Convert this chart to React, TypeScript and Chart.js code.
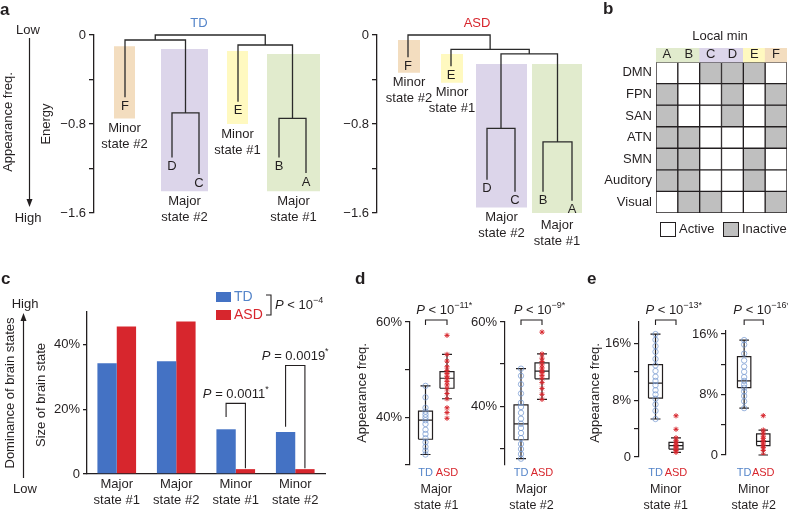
import React, { useEffect, useRef } from 'react';
import { Chart, registerables } from 'chart.js';

Chart.register(...registerables);

const W = 788;
const H = 514;
const FONT = '"Liberation Sans", Arial, Helvetica, sans-serif';
const INK = '#231F20';
const BLUE = '#4472C4';
const RED = '#D7262D';
const TD_TXT = '#5585C9';
const TD_PT = 'rgba(120,155,210,0.75)';
const GRAY = '#BFBFBF';
const C_GREEN = '#E1EBCD';
const C_PURPLE = '#DCD5EA';
const C_YELLOW = '#FFF9C0';
const C_TAN = '#F3DDBF';

Chart.defaults.font.family = FONT;
Chart.defaults.font.size = 13;
Chart.defaults.color = INK;

// ================= DATA =================
// Panel a: energy landscape dendrograms
const stateNames = ['A', 'B', 'C', 'D', 'E', 'F'];
const energyTicks = [0, -0.4, -0.8, -1.2, -1.6];
const energyTickLabels = ['0', '', '−0.8', '', '−1.6'];
const tdLeafEnergy = [-1.24, -1.1, -1.25, -1.1, -0.6, -0.56];
const tdMergeLeft = ['D', 'B', 'F', 'E', 'FDC'];
const tdMergeRight = ['C', 'A', 'DC', 'BA', 'EBA'];
const tdMergeEnergy = [-0.7, -0.75, -0.045, -0.09, 0];
const asdLeafEnergy = [-1.49, -1.41, -1.41, -1.3, -0.28, -0.2];
const asdMergeLeft = ['D', 'B', 'DC', 'E', 'F'];
const asdMergeRight = ['C', 'A', 'BA', 'DCBA', 'EDCBA'];
const asdMergeEnergy = [-0.84, -0.96, -0.17, -0.13, 0];
const groupLines = [['Major', 'state #1'], ['Major', 'state #2'], ['Minor', 'state #1'], ['Minor', 'state #2']];
const groupColors = [C_GREEN, C_PURPLE, C_YELLOW, C_TAN];
const tdGroupTop = [-0.17, -0.126, -0.144, -0.1];
const tdGroupBottom = [-1.405, -1.405, -0.8, -0.75];
const asdGroupTop = [-0.26, -0.26, -0.17, -0.045];
const asdGroupBottom = [-1.62, -1.55, -0.43, -0.34];

// Panel b: activity pattern of local minima (1 = inactive)
const bNetworks = ['DMN', 'FPN', 'SAN', 'ATN', 'SMN', 'Auditory', 'Visual'];
const bInactive = [
  [0, 0, 1, 1, 1, 0],
  [1, 0, 0, 1, 0, 1],
  [1, 0, 0, 1, 0, 1],
  [1, 1, 0, 0, 0, 1],
  [1, 1, 0, 0, 1, 0],
  [1, 1, 0, 0, 1, 0],
  [0, 1, 1, 0, 0, 1],
];
const bHeaderColors = [C_GREEN, C_GREEN, C_PURPLE, C_PURPLE, C_YELLOW, C_TAN];

// Panel c: size of brain states (%)
const cCategories = [['Major', 'state #1'], ['Major', 'state #2'], ['Minor', 'state #1'], ['Minor', 'state #2']];
const cTD = [34.2, 34.8, 13.8, 13.0];
const cASD = [45.5, 47.1, 1.5, 1.5];
const cTicks = [0, 20, 40];
const cPValues = ['', '', '0.0011', '0.0019'];
const cBracketTop = [0, 0, 21.8, 33.5];
const cBracketStart = [0, 0, 17.6, 14.6];

// Panels d, e: appearance frequency (%), box = [low whisker, Q1, median, Q3, high whisker]
const dTicks = [30, 40, 50, 60];
const dTickLabels = ['', '40%', '', '60%'];
const eTicks = [0, 4, 8, 12, 16];
const eTickLabels = ['0', '', '8%', '', '16%'];

const major1TDPoints = [46.6, 44.2, 42.0, 41.2, 40.6, 40.0, 39.4, 38.6, 37.4, 36.5, 35.6, 34.8, 33.8, 33.0, 32.2];
const major1ASDPoints = [57.2, 53.2, 51.8, 50.6, 49.8, 49.2, 48.6, 48.1, 47.5, 46.8, 46.0, 45.0, 43.9, 42.0, 41.0, 39.8];
const major1TDBox = [32.2, 35.4, 39.4, 41.3, 46.6];
const major1ASDBox = [43.9, 46.1, 48.2, 49.6, 53.2];

const major2TDPoints = [48.9, 47.2, 45.2, 43.0, 40.8, 39.8, 38.4, 37.0, 35.8, 34.8, 33.6, 32.4, 31.0, 29.8, 28.6, 27.5];
const major2ASDPoints = [57.6, 52.4, 51.4, 50.6, 49.8, 49.1, 48.5, 48.0, 47.3, 46.6, 45.6, 44.2, 42.8, 41.6];
const major2TDBox = [27.5, 32.0, 35.8, 40.3, 48.9];
const major2ASDBox = [41.6, 46.5, 48.3, 50.3, 52.4];

const minor1TDPoints = [17.3, 16.5, 15.6, 14.8, 13.8, 12.9, 12.1, 11.3, 10.7, 10.1, 9.4, 8.8, 8.2, 7.4, 6.5, 5.35];
const minor1ASDPoints = [5.8, 3.9, 2.7, 2.3, 2.0, 1.7, 1.5, 1.3, 1.1, 0.9, 0.65];
const minor1TDBox = [5.35, 8.3, 10.4, 13.0, 17.3];
const minor1ASDBox = [0.65, 1.1, 1.6, 2.07, 2.7];

const minor2TDPoints = [15.2, 14.6, 13.4, 12.5, 11.7, 11.0, 10.3, 9.8, 9.3, 8.9, 8.4, 7.8, 7.1, 6.2];
const minor2ASDPoints = [5.2, 3.3, 2.9, 2.5, 2.2, 1.9, 1.6, 1.3, 1.0, 0.6, 0.0];
const minor2TDBox = [6.2, 8.9, 9.8, 13.0, 15.2];
const minor2ASDBox = [0.0, 1.24, 1.8, 2.8, 3.3];

// ================= LAYOUT =================
const A_LAYOUT: any = {
  TD: {
    axisX: 94, xMax: 236, titleX: 105, color: TD_TXT,
    leafX: { F: 31, D: 78, C: 105, E: 144, B: 185, A: 212 },
    boxX: [[173, 226], [67, 114], [133, 154], [20, 41]],
  },
  ASD: {
    axisX: 377, xMax: 215, titleX: 100, color: RED,
    leafX: { F: 31, E: 74, D: 110, C: 138, B: 166, A: 195 },
    boxX: [[155, 205], [99, 150], [64, 86], [21, 43]],
  },
};

const BOX_SPECS: any[] = [
  { axisX: 410, tdX: 425.5, asdX: 447, top: 322, bottom: 465, min: 30, max: 60, ticks: dTicks, labels: dTickLabels,
    td: major1TDPoints, asd: major1ASDPoints, tdBox: major1TDBox, asdBox: major1ASDBox, name: groupLines[0], exp: '−11*', bracketY: 320, yTitleX: 362, letter: 'd', letterX: 355 },
  { axisX: 505, tdX: 521, asdX: 542, top: 322, bottom: 465, min: 26, max: 60, ticks: dTicks, labels: dTickLabels,
    td: major2TDPoints, asd: major2ASDPoints, tdBox: major2TDBox, asdBox: major2ASDBox, name: groupLines[1], exp: '−9*', bracketY: 320 },
  { axisX: 639, tdX: 655.5, asdX: 676, top: 322, bottom: 457, min: 0, max: 19, ticks: eTicks, labels: eTickLabels,
    td: minor1TDPoints, asd: minor1ASDPoints, tdBox: minor1TDBox, asdBox: minor1ASDBox, name: groupLines[2], exp: '−13*', bracketY: 320, yTitleX: 595, letter: 'e', letterX: 587 },
  { axisX: 726, tdX: 745, asdX: 765, top: 331, bottom: 455, min: 0, max: 16.4, ticks: eTicks, labels: eTickLabels,
    td: minor2TDPoints, asd: minor2ASDPoints, tdBox: minor2TDBox, asdBox: minor2ASDBox, name: groupLines[3], exp: '−16*', bracketY: 320 },
];

// ================= DRAW HELPERS =================
function txt(ctx: any, s: string, x: number, y: number, o: any = {}) {
  ctx.save();
  ctx.font = `${o.italic ? 'italic ' : ''}${o.bold ? 'bold ' : ''}${o.size ?? 13}px ${FONT}`;
  ctx.fillStyle = o.color ?? INK;
  ctx.textAlign = o.align ?? 'center';
  ctx.textBaseline = 'middle';
  ctx.translate(x, y);
  if (o.rot) ctx.rotate(o.rot);
  ctx.fillText(s, 0, 0);
  ctx.restore();
}

function rich(ctx: any, parts: any[], x: number, y: number, align = 'center', size = 13, color = INK) {
  ctx.save();
  ctx.fillStyle = color;
  ctx.textBaseline = 'middle';
  ctx.textAlign = 'left';
  const fontOf = (p: any) => `${p.it ? 'italic ' : ''}${p.sup ? Math.round(size * 0.72) : size}px ${FONT}`;
  let total = 0;
  const widths = parts.map((p) => { ctx.font = fontOf(p); const w = ctx.measureText(p.t).width; total += w; return w; });
  let cx = align === 'center' ? x - total / 2 : x;
  parts.forEach((p, i) => {
    ctx.font = fontOf(p);
    ctx.fillText(p.t, cx, p.sup ? y - size * 0.38 : y);
    cx += widths[i];
  });
  ctx.restore();
}

function path(ctx: any, pts: number[][], color = INK, lw = 1.2) {
  ctx.save();
  ctx.strokeStyle = color;
  ctx.lineWidth = lw;
  ctx.beginPath();
  pts.forEach(([px, py], i) => (i ? ctx.lineTo(px, py) : ctx.moveTo(px, py)));
  ctx.stroke();
  ctx.restore();
}

function arrowV(ctx: any, x: number, yFrom: number, yTo: number) {
  const dir = Math.sign(yTo - yFrom);
  path(ctx, [[x, yFrom], [x, yTo - dir * 5]], INK, 1.2);
  ctx.save();
  ctx.fillStyle = INK;
  ctx.beginPath();
  ctx.moveTo(x, yTo);
  ctx.lineTo(x - 3, yTo - dir * 8);
  ctx.lineTo(x + 3, yTo - dir * 8);
  ctx.closePath();
  ctx.fill();
  ctx.restore();
}

function base(padding: any) {
  return {
    responsive: false,
    animation: false,
    devicePixelRatio: 1,
    events: [],
    layout: { padding },
    plugins: { legend: { display: false }, tooltip: { enabled: false }, title: { display: false } },
  };
}

// ================= PANEL a =================
function makeA(kind: 'TD' | 'ASD') {
  const L = A_LAYOUT[kind];
  const leafE = kind === 'TD' ? tdLeafEnergy : asdLeafEnergy;
  const mL = kind === 'TD' ? tdMergeLeft : asdMergeLeft;
  const mR = kind === 'TD' ? tdMergeRight : asdMergeRight;
  const mE = kind === 'TD' ? tdMergeEnergy : asdMergeEnergy;
  const gTop = kind === 'TD' ? tdGroupTop : asdGroupTop;
  const gBot = kind === 'TD' ? tdGroupBottom : asdGroupBottom;
  const pos: any = {};
  stateNames.forEach((s, i) => { pos[s] = { x: L.leafX[s], e: leafE[i] }; });
  const tree: any[] = [];
  mL.forEach((l, i) => {
    const r = mR[i];
    const a = pos[l];
    const b = pos[r];
    const e = mE[i];
    tree.push({ x: a.x, y: a.e }, { x: a.x, y: e }, { x: b.x, y: e }, { x: b.x, y: b.e }, { x: b.x, y: null });
    pos[l + r] = { x: (a.x + b.x) / 2, e };
  });
  const rects = groupColors.map((c, i) => {
    const [x0, x1] = L.boxX[i];
    return {
      data: [{ x: x0, y: gTop[i] }, { x: x1, y: gTop[i] }, { x: x1, y: gBot[i] }, { x: x0, y: gBot[i] }, { x: x0, y: gTop[i] }],
      showLine: true, fill: 'shape', backgroundColor: c, borderColor: 'rgba(0,0,0,0)', borderWidth: 0,
      pointRadius: 0, order: 5, clip: false,
    };
  });
  return {
    type: 'scatter',
    data: {
      datasets: [
        { data: tree, showLine: true, borderColor: '#2A2A2A', borderWidth: 1.3, pointRadius: 0, order: 1, clip: false, spanGaps: false },
        ...rects,
      ],
    },
    options: {
      ...base({ left: L.axisX - 40, right: W - (L.axisX + L.xMax), top: 35, bottom: H - 213 }),
      scales: {
        x: { type: 'linear', display: false, min: 0, max: L.xMax },
        y: {
          type: 'linear', min: -1.6, max: 0,
          afterFit: (s: any) => { s.width = 40; },
          afterBuildTicks: (s: any) => { s.ticks = energyTicks.map((v) => ({ value: v })); },
          ticks: { callback: (_v: any, i: number) => energyTickLabels[i], padding: 3, color: INK, font: { size: 13 } },
          grid: { drawOnChartArea: false, drawTicks: true, tickLength: 5, color: INK, lineWidth: 1.3 },
          border: { display: true, color: INK, width: 1.3 },
        },
      },
    },
    plugins: [{
      id: 'deco' + kind,
      afterDraw(chart: any) {
        const { ctx } = chart;
        const x = chart.scales.x;
        const y = chart.scales.y;
        stateNames.forEach((s, i) => {
          txt(ctx, s, x.getPixelForValue(L.leafX[s]), y.getPixelForValue(leafE[i]) + 9);
        });
        groupLines.forEach((lines, i) => {
          const cx = x.getPixelForValue((L.boxX[i][0] + L.boxX[i][1]) / 2);
          const by = y.getPixelForValue(gBot[i]);
          txt(ctx, lines[0], cx, by + 10);
          txt(ctx, lines[1], cx, by + 26);
        });
        txt(ctx, kind, x.getPixelForValue(L.titleX), 23, { color: L.color });
        if (kind === 'TD') {
          txt(ctx, 'a', 0, 10, { bold: true, size: 17, align: 'left' });
          txt(ctx, 'Low', 28, 30);
          arrowV(ctx, 29.5, 38, 207);
          txt(ctx, 'High', 28, 218);
          txt(ctx, 'Appearance freq.', 8, 122, { rot: -Math.PI / 2 });
          txt(ctx, 'Energy', 46, 124, { rot: -Math.PI / 2 });
        }
      },
    }],
  };
}

// ================= PANEL b =================
function makeB() {
  const header = {
    data: stateNames.map(() => [-0.65, 0]),
    backgroundColor: bHeaderColors, borderWidth: 0, borderColor: 'rgba(0,0,0,0)',
  };
  const rows = bInactive.map((row, r) => ({
    data: row.map(() => [r, r + 1]),
    backgroundColor: row.map((v) => (v ? GRAY : '#FFFFFF')),
    borderColor: INK, borderWidth: 1, borderSkipped: false,
  }));
  return {
    type: 'bar',
    data: { labels: stateNames, datasets: [header, ...rows] },
    options: {
      ...base({ left: 656 - 60, right: W - 787, top: 48, bottom: H - 213 }),
      datasets: { bar: { grouped: false, barPercentage: 1, categoryPercentage: 1 } },
      scales: {
        x: { display: false },
        y: {
          type: 'linear', reverse: true, min: -0.65, max: 7,
          afterFit: (s: any) => { s.width = 60; },
          afterBuildTicks: (s: any) => { s.ticks = bNetworks.map((_n, i) => ({ value: i + 0.5 })); },
          ticks: { callback: (_v: any, i: number) => bNetworks[i], padding: 4, color: INK, font: { size: 13 } },
          grid: { display: false, drawTicks: false },
          border: { display: false },
        },
      },
    },
    plugins: [{
      id: 'decoB',
      afterDraw(chart: any) {
        const { ctx } = chart;
        const x = chart.scales.x;
        const y = chart.scales.y;
        stateNames.forEach((s, i) => txt(ctx, s, x.getPixelForValue(i), y.getPixelForValue(-0.33)));
        txt(ctx, 'b', 603, 9, { bold: true, size: 17, align: 'left' });
        txt(ctx, 'Local min', 720, 36);
        ctx.save();
        ctx.strokeStyle = INK;
        ctx.lineWidth = 1;
        ctx.fillStyle = '#FFFFFF';
        ctx.fillRect(660.5, 222.5, 15, 14);
        ctx.strokeRect(660.5, 222.5, 15, 14);
        ctx.fillStyle = GRAY;
        ctx.fillRect(723.5, 222.5, 15, 14);
        ctx.strokeRect(723.5, 222.5, 15, 14);
        ctx.restore();
        txt(ctx, 'Active', 679, 229.5, { align: 'left' });
        txt(ctx, 'Inactive', 742, 229.5, { align: 'left' });
      },
    }],
  };
}

// ================= PANEL c =================
function makeC() {
  return {
    type: 'bar',
    data: {
      labels: cCategories,
      datasets: [
        { data: cTD, backgroundColor: BLUE },
        { data: cASD, backgroundColor: RED },
      ],
    },
    options: {
      ...base({ left: 87 - 40, right: W - 325, top: 312, bottom: 0 }),
      datasets: { bar: { categoryPercentage: 0.65, barPercentage: 1 } },
      scales: {
        x: {
          afterFit: (s: any) => { s.height = 40; },
          grid: { display: false, drawTicks: false },
          border: { display: true, color: INK, width: 1.3 },
          ticks: { padding: 3, color: INK, font: { size: 13 }, maxRotation: 0, autoSkip: false },
        },
        y: {
          min: 0, max: 50,
          afterFit: (s: any) => { s.width = 40; },
          afterBuildTicks: (s: any) => { s.ticks = cTicks.map((v) => ({ value: v })); },
          ticks: { callback: (v: any) => (v === 0 ? '0' : v + '%'), padding: 3, color: INK, font: { size: 13 } },
          grid: { drawOnChartArea: false, tickLength: 4, color: INK, lineWidth: 1.3 },
          border: { display: true, color: INK, width: 1.3 },
        },
      },
    },
    plugins: [{
      id: 'decoC',
      afterDraw(chart: any) {
        const { ctx } = chart;
        const y = chart.scales.y;
        txt(ctx, 'c', 1, 279, { bold: true, size: 17, align: 'left' });
        txt(ctx, 'High', 25, 304);
        arrowV(ctx, 23.5, 478, 313);
        txt(ctx, 'Low', 25, 489);
        txt(ctx, 'Dominance of brain states', 10, 393, { rot: -Math.PI / 2 });
        txt(ctx, 'Size of brain state', 41, 395, { rot: -Math.PI / 2 });
        ctx.save();
        ctx.fillStyle = BLUE;
        ctx.fillRect(216, 292, 15, 10);
        ctx.fillStyle = RED;
        ctx.fillRect(216, 310, 15, 10);
        ctx.restore();
        txt(ctx, 'TD', 234, 297.5, { align: 'left', size: 14, color: TD_TXT });
        txt(ctx, 'ASD', 234, 315.5, { align: 'left', size: 14, color: RED });
        path(ctx, [[266, 295], [271, 295], [271, 315], [266, 315]], INK, 1.1);
        rich(ctx, [{ t: 'P', it: true }, { t: ' < 10' }, { t: '−4', sup: true }], 275, 305, 'left');
        const mt = chart.getDatasetMeta(0).data;
        const ma = chart.getDatasetMeta(1).data;
        cPValues.forEach((p, i) => {
          if (!p) return;
          const xl = mt[i].x;
          const xr = ma[i].x;
          const yt = y.getPixelForValue(cBracketTop[i]);
          path(ctx, [[xl, y.getPixelForValue(cBracketStart[i])], [xl, yt], [xr, yt], [xr, y.getPixelForValue(cASD[i] + 0.3)]], INK, 1.1);
          rich(ctx, [{ t: 'P', it: true }, { t: ' = ' + p }, { t: '*', sup: true }], (xl + xr) / 2, yt - 9);
        });
      },
    }],
  };
}

// ================= PANELS d, e =================
function boxLines(g: number, b: number[], bw: number, cw: number) {
  const [lo, q1, md, q3, hi] = b;
  return [
    { x: g - bw, y: q1 }, { x: g + bw, y: q1 }, { x: g + bw, y: q3 }, { x: g - bw, y: q3 }, { x: g - bw, y: q1 }, { x: g, y: null },
    { x: g - bw, y: md }, { x: g + bw, y: md }, { x: g, y: null },
    { x: g, y: q3 }, { x: g, y: hi }, { x: g, y: null },
    { x: g - cw, y: hi }, { x: g + cw, y: hi }, { x: g, y: null },
    { x: g, y: q1 }, { x: g, y: lo }, { x: g, y: null },
    { x: g - cw, y: lo }, { x: g + cw, y: lo }, { x: g, y: null },
  ];
}

function makeBox(s: any) {
  const u = s.asdX - s.tdX;
  const xmin = -(s.tdX - s.axisX) / u;
  const xmax = 1.8;
  const right = s.axisX + u * (xmax - xmin);
  const bw = 7 / u;
  const cw = 5 / u;
  const labelPad = Math.max(0, 473 - 6.6 - s.bottom);
  return {
    type: 'scatter',
    data: {
      datasets: [
        { data: s.td.map((v: number) => ({ x: 0, y: v })), pointStyle: 'circle', pointRadius: 2.7, pointBorderColor: TD_PT, pointBackgroundColor: 'rgba(0,0,0,0)', pointBorderWidth: 1, order: 0 },
        { data: s.asd.map((v: number) => ({ x: 1, y: v })), pointStyle: 'star', pointRadius: 2.6, pointBorderColor: RED, pointBackgroundColor: RED, pointBorderWidth: 1, order: 0 },
        { data: [...boxLines(0, s.tdBox, bw, cw), ...boxLines(1, s.asdBox, bw, cw)], showLine: true, borderColor: INK, borderWidth: 1.2, pointRadius: 0, order: 1, clip: false, spanGaps: false },
      ],
    },
    options: {
      ...base({ left: s.axisX - 40, right: W - right, top: s.top, bottom: H - s.bottom - 30 }),
      scales: {
        x: {
          type: 'linear', min: xmin, max: xmax,
          afterFit: (sc: any) => { sc.height = 30; },
          afterBuildTicks: (sc: any) => { sc.ticks = [{ value: 0 }, { value: 1 }]; },
          ticks: { callback: (v: any) => (v === 0 ? 'TD' : 'ASD'), color: (c: any) => (c.index === 0 ? TD_TXT : RED), padding: labelPad, font: { size: 11 } },
          grid: { display: false, drawTicks: false },
          border: { display: false },
        },
        y: {
          type: 'linear', min: s.min, max: s.max,
          afterFit: (sc: any) => { sc.width = 40; },
          afterBuildTicks: (sc: any) => { sc.ticks = s.ticks.map((v: number) => ({ value: v })); },
          ticks: { callback: (_v: any, i: number) => s.labels[i], padding: 3, color: INK, font: { size: 13 } },
          grid: { drawOnChartArea: false, tickLength: 5, color: INK, lineWidth: 1.2 },
          border: { display: true, color: INK, width: 1.2 },
        },
      },
    },
    plugins: [{
      id: 'decoBox',
      afterDraw(chart: any) {
        const { ctx } = chart;
        const x = chart.scales.x;
        const x0 = x.getPixelForValue(0);
        const x1 = x.getPixelForValue(1);
        const by = s.bracketY;
        path(ctx, [[x0, by + 5], [x0, by], [x1, by], [x1, by + 5]], INK, 1.1);
        rich(ctx, [{ t: 'P', it: true }, { t: ' < 10' }, { t: s.exp, sup: true }], (x0 + x1) / 2 + 8, 310);
        txt(ctx, s.name[0], (x0 + x1) / 2, 490, { size: 12.5 });
        txt(ctx, s.name[1], (x0 + x1) / 2, 506, { size: 12.5 });
        if (s.yTitleX) txt(ctx, 'Appearance freq.', s.yTitleX, 393, { rot: -Math.PI / 2 });
        if (s.letter) txt(ctx, s.letter, s.letterX, 279, { bold: true, size: 17, align: 'left' });
      },
    }],
  };
}

function makeConfigs() {
  return [makeA('TD'), makeA('ASD'), makeB(), makeC(), ...BOX_SPECS.map(makeBox)];
}

const N_CHARTS = 4 + BOX_SPECS.length;

export default function App() {
  const holder = useRef<HTMLDivElement>(null);
  useEffect(() => {
    const host = holder.current;
    if (!host) return;
    const canvases = Array.from(host.querySelectorAll('canvas'));
    const charts = makeConfigs().map((cfg: any, i) => new Chart(canvases[i] as HTMLCanvasElement, cfg));
    return () => charts.forEach((c) => c.destroy());
  }, []);
  return (
    <div ref={holder} style={{ position: 'absolute', left: 0, top: 0, width: W, height: H, background: '#FFFFFF', overflow: 'hidden' }}>
      {Array.from({ length: N_CHARTS }).map((_, i) => (
        <canvas key={i} width={W} height={H} style={{ position: 'absolute', left: 0, top: 0 }} />
      ))}
    </div>
  );
}
